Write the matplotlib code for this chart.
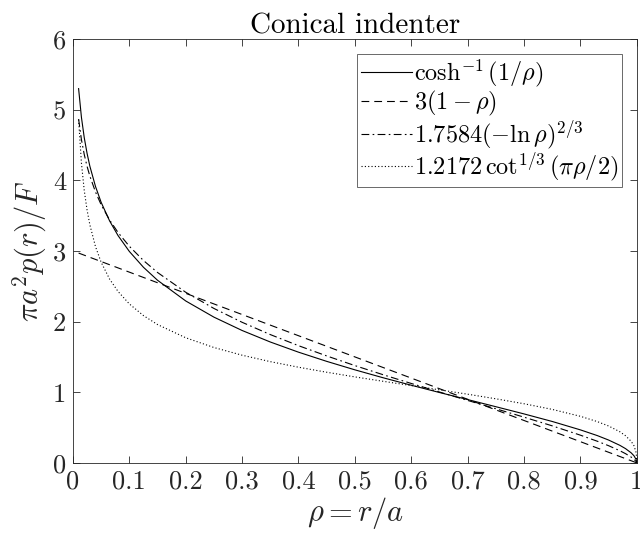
import matplotlib
matplotlib.use("Agg")
import matplotlib.pyplot as plt

plt.rcParams['mathtext.fontset'] = 'cm'
plt.rcParams['font.family'] = 'serif'
plt.rcParams['font.serif'] = ['cmr10']
plt.rcParams['axes.formatter.use_mathtext'] = True

# rho sample positions
rho = [0.01, 0.015, 0.02, 0.025, 0.03, 0.04, 0.05, 0.065, 0.08, 0.1, 0.125, 0.15,
       0.2, 0.25, 0.3, 0.35, 0.4, 0.45, 0.5, 0.55, 0.6, 0.65, 0.7, 0.75, 0.8,
       0.85, 0.9, 0.93, 0.95, 0.97, 0.98, 0.99, 0.995, 0.999, 1.0]

acosh_vals = [5.298, 4.893, 4.605, 4.382, 4.199, 3.912, 3.688, 3.425, 3.217, 2.993,
              2.769, 2.585, 2.292, 2.063, 1.874, 1.711, 1.567, 1.437, 1.317, 1.205,
              1.099, 0.996, 0.896, 0.795, 0.693, 0.586, 0.467, 0.386, 0.323, 0.248,
              0.2017, 0.142, 0.1002, 0.0447, 0.0]

linear_vals = [2.97, 2.955, 2.94, 2.925, 2.91, 2.88, 2.85, 2.805, 2.76, 2.70,
               2.625, 2.55, 2.40, 2.25, 2.10, 1.95, 1.80, 1.65, 1.50, 1.35,
               1.20, 1.05, 0.90, 0.75, 0.60, 0.45, 0.30, 0.21, 0.15, 0.09,
               0.06, 0.03, 0.015, 0.003, 0.0]

log_vals = [4.867, 4.577, 4.366, 4.198, 4.059, 3.834, 3.654, 3.438, 3.261, 3.066,
            2.865, 2.695, 2.415, 2.186, 1.990, 1.816, 1.659, 1.514, 1.377, 1.248,
            1.124, 1.003, 0.884, 0.766, 0.647, 0.524, 0.392, 0.306, 0.243, 0.1715,
            0.1304, 0.0819, 0.0515, 0.0176, 0.0]

cot_vals = [4.860, 4.246, 3.857, 3.580, 3.369, 3.060, 2.840, 2.601, 2.426, 2.250,
            2.085, 1.958, 1.771, 1.633, 1.524, 1.433, 1.354, 1.283, 1.217, 1.155,
            1.094, 1.034, 0.972, 0.907, 0.837, 0.757, 0.659, 0.584, 0.522, 0.440,
            0.384, 0.305, 0.242, 0.1415, 0.0]

labels = [r'$\cosh^{-1}(1/\rho)$', r'$3(1-\rho)$',
          r'$1.7584(-\ln\rho)^{2/3}$', r'$1.2172\,\cot^{1/3}(\pi\rho/2)$']

xticks = [0, 0.1, 0.2, 0.3, 0.4, 0.5, 0.6, 0.7, 0.8, 0.9, 1]
xticklabels = ['0', '0.1', '0.2', '0.3', '0.4', '0.5', '0.6', '0.7', '0.8', '0.9', '1']
yticks = [0, 1, 2, 3, 4, 5, 6]
yticklabels = ['0', '1', '2', '3', '4', '5', '6']

axcol = (0.15, 0.15, 0.15)
fig = plt.figure(figsize=(6.4, 5.42), dpi=100)
ax = fig.add_axes([0.114, 0.146, 0.881, 0.782])

lw = 0.8
ax.plot(rho, acosh_vals, '-', color='k', lw=lw, label=labels[0])
ax.plot(rho, linear_vals, '--', color='k', lw=lw, label=labels[1], dashes=(7, 4.5))
ax.plot(rho, log_vals, '-.', color='k', lw=lw, label=labels[2], dashes=(7, 3, 1.5, 3))
ax.plot(rho, cot_vals, ':', color='k', lw=lw, label=labels[3], dashes=(1, 2))

ax.set_xlim(0, 1)
ax.set_ylim(0, 6)
ax.set_xticks(xticks)
ax.set_xticklabels(xticklabels)
ax.set_yticks(yticks)
ax.set_yticklabels(yticklabels)
ax.tick_params(direction='in', length=5, width=0.6, top=True, right=True,
               labelsize=19, colors=axcol, pad=5)
for s in ax.spines.values():
    s.set_color(axcol)
    s.set_linewidth(0.6)

ax.set_xlabel(r'$\rho = r/a$', fontsize=22, color=axcol, labelpad=1)
ax.set_ylabel(r'$\pi a^2 p(r)/F$', fontsize=22, color=axcol, labelpad=3)
ax.set_title('Conical indenter', fontsize=21, color='k', pad=4)

leg = ax.legend(loc='upper right', fontsize=17.5, frameon=True, fancybox=False,
                edgecolor=axcol, handlelength=2.1, handletextpad=0.1,
                labelspacing=0.0, borderpad=0.15, borderaxespad=0.6)
leg.get_frame().set_linewidth(0.6)

fig.savefig('out.png', dpi=100)
